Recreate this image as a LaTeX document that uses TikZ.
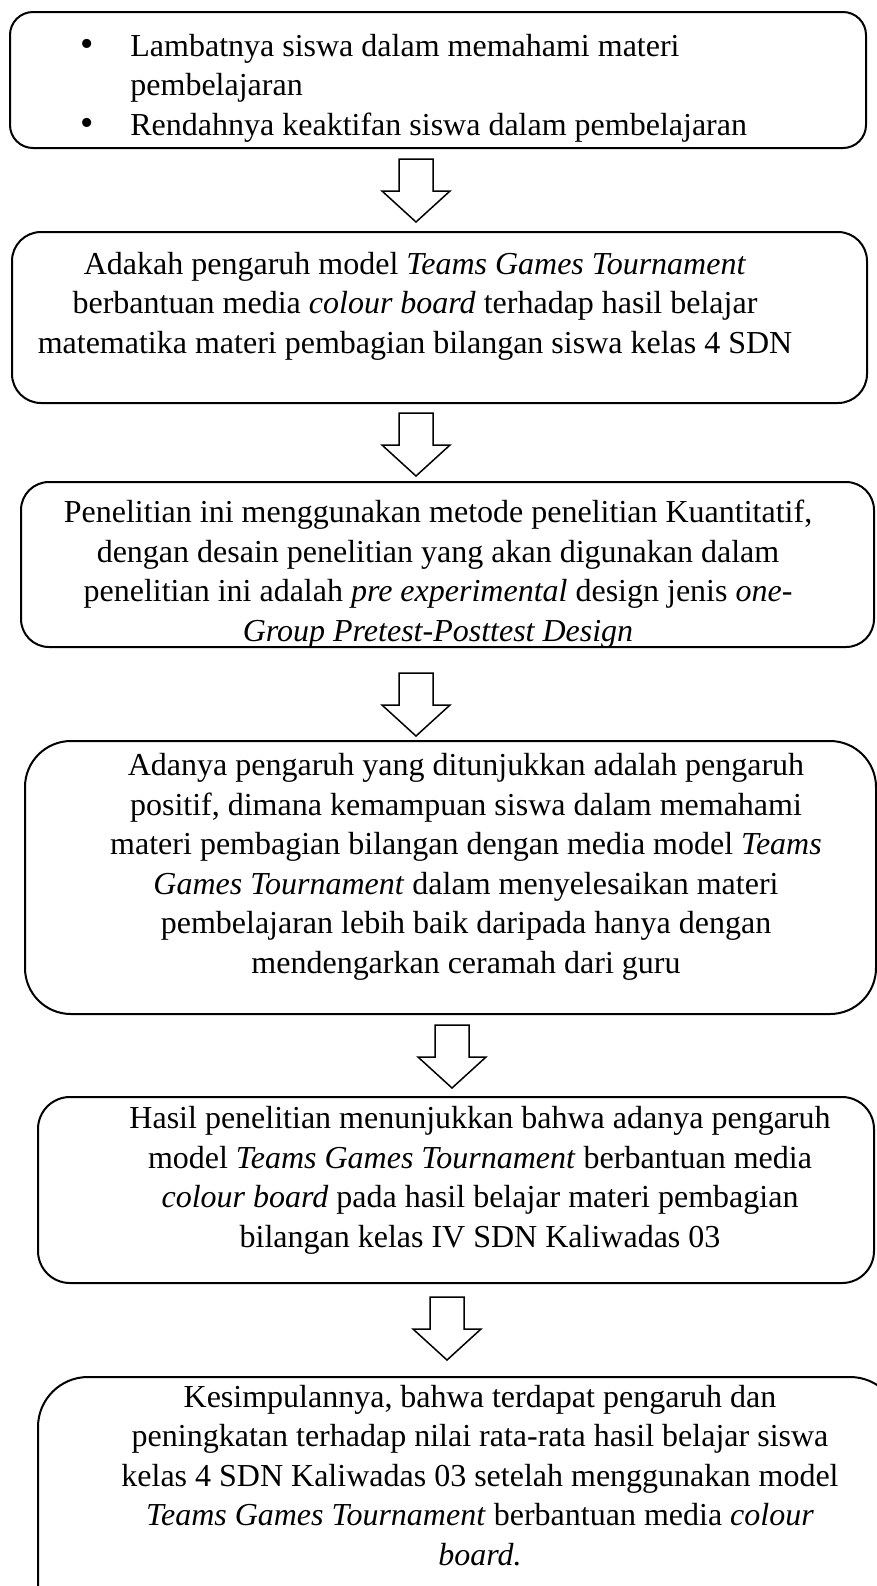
\documentclass[tikz,border=0pt]{standalone}
\usepackage{fontspec}
\setmainfont{Liberation Serif}
\tikzset{
  box/.style={line width=1pt, rounded corners=#1},
  txt/.style={align=center, anchor=base, inner sep=0pt, font=\fontsize{16}{19.75}\selectfont},
  pics/downarrow/.style={code={
    \draw[line width=0.75pt, fill=white]
    (-17,0) -- (17,0) -- (17,32) -- (34,32) -- (0,63) -- (-34,32) -- (-17,32) -- cycle;
  }},
}
\newcommand{\bul}{\llap{{\fontsize{19}{19}\selectfont\textbullet}\hspace{18.2pt}}}
\begin{document}
\begin{tikzpicture}[x=0.5pt, y=-0.5pt]
    \useasboundingbox (0,0) rectangle (877,1586);
    \clip (0,0) rectangle (877,1586);

    % frames
    \draw[box=11.5pt] (10,12) rectangle (866,148);
    \draw[box=14.5pt] (12,232) rectangle (867,403);
    \draw[box=14pt] (21,482) rectangle (874,647);
    \draw[box=23pt] (25,741) rectangle (876,1014);
    \draw[box=16pt] (38,1097) rectangle (874,1283);
    \draw[box=25pt] (38,1377) rectangle (900,1660);

    % texts (placed by the baseline of their last line)
    \node[txt, align=left, anchor=base west] (masalah) at (130,135)
    {\bul Lambatnya siswa dalam memahami materi\\
     pembelajaran\\
     \bul Rendahnya keaktifan siswa dalam pembelajaran};
    \node[txt] (rumusan) at (415,353)
    {Adakah pengaruh model \textit{Teams Games Tournament}\\
     berbantuan media \textit{colour board} terhadap hasil belajar\\
     matematika materi pembagian bilangan siswa kelas 4 SDN};
    \node[txt] (metode) at (438,641)
    {Penelitian ini menggunakan metode penelitian Kuantitatif,\\
     dengan desain penelitian yang akan digunakan dalam\\
     penelitian ini adalah \textit{pre experimental} design jenis \textit{one-}\\
     \textit{Group Pretest-Posttest Design}};
    \node[txt] (analisis) at (466,973)
    {Adanya pengaruh yang ditunjukkan adalah pengaruh\\
     positif, dimana kemampuan siswa dalam memahami\\
     materi pembagian bilangan dengan media model \textit{Teams}\\
     \textit{Games Tournament} dalam menyelesaikan materi\\
     pembelajaran lebih baik daripada hanya dengan\\
     mendengarkan ceramah dari guru};
    \node[txt] (hasil) at (480,1247)
    {Hasil penelitian menunjukkan bahwa adanya pengaruh\\
     model \textit{Teams Games Tournament} berbantuan media\\
     \textit{colour board} pada hasil belajar materi pembagian\\
     bilangan kelas IV SDN Kaliwadas 03};
    \node[txt] (simpulan) at (480,1565)
    {Kesimpulannya, bahwa terdapat pengaruh dan\\
     peningkatan terhadap nilai rata-rata hasil belajar siswa\\
     kelas 4 SDN Kaliwadas 03 setelah menggunakan model\\
     \textit{Teams Games Tournament} berbantuan media \textit{colour}\\
     \textit{board.}};

    % arrows
    \pic (panahA) at (416,159) {downarrow};
    \pic (panahB) at (416,413) {downarrow};
    \pic (panahC) at (416,673) {downarrow};
    \pic (panahD) at (452,1025) {downarrow};
    \pic (panahE) at (447,1297) {downarrow};
  \end{tikzpicture}
\end{document}
